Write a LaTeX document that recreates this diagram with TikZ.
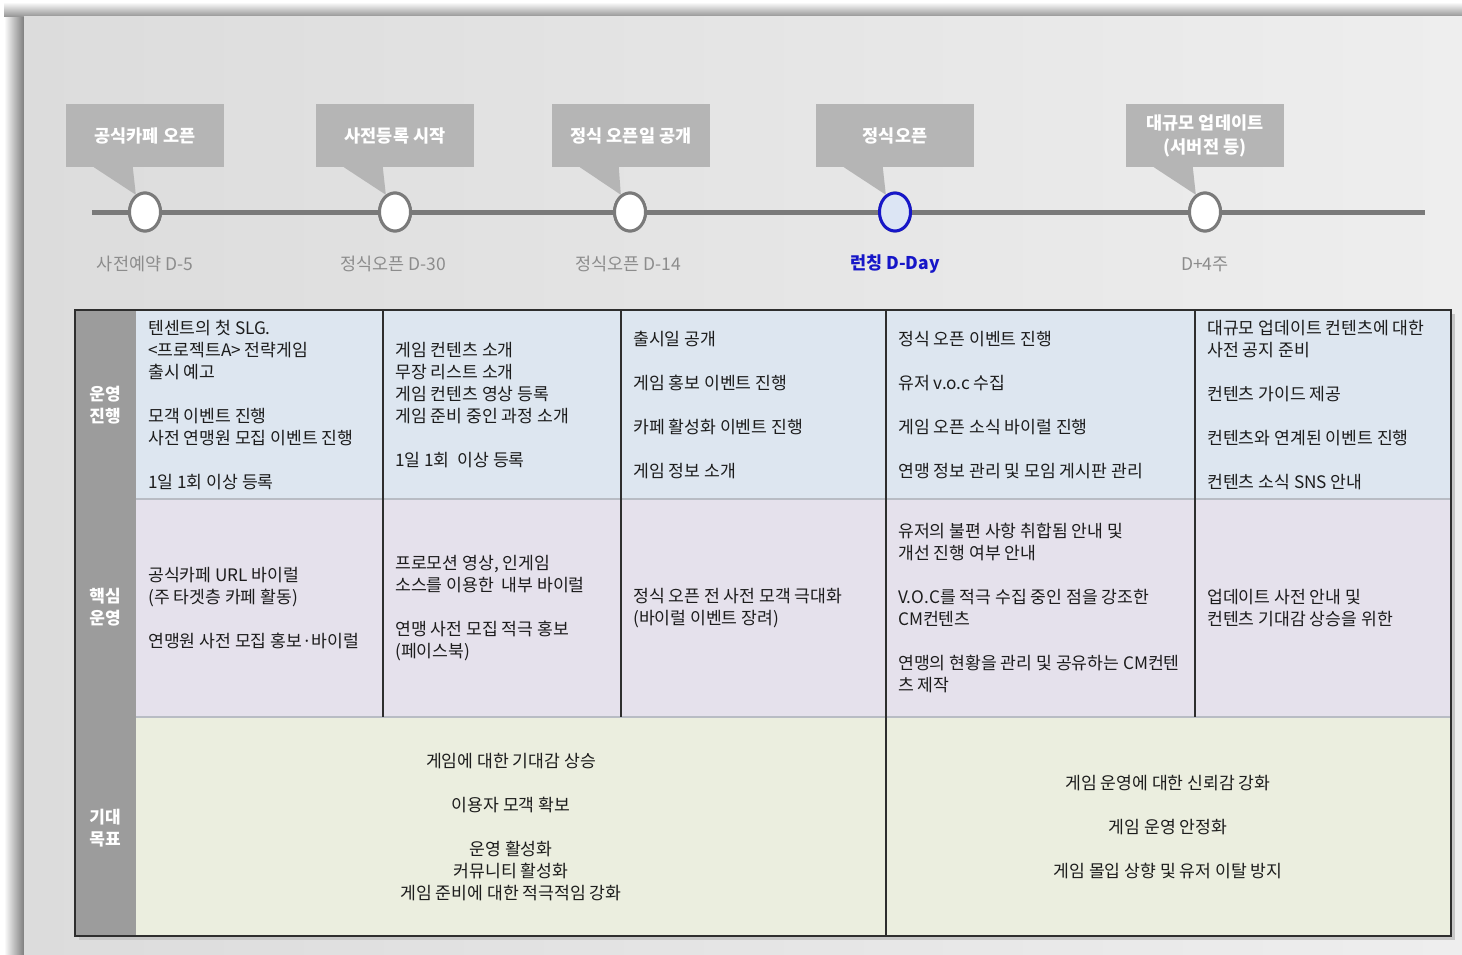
\documentclass[tikz,border=0pt]{standalone}
\usepackage{fontspec}
\setmainfont{Noto Sans CJK KR}
\usetikzlibrary{shapes.geometric}
\definecolor{panelL}{HTML}{DCDCDC}
\definecolor{panelR}{HTML}{EEEEEE}
\definecolor{shadowc}{HTML}{7E7E7E}
\definecolor{calloutc}{HTML}{B5B5B5}
\definecolor{linec}{HTML}{7A7A7A}
\definecolor{labelc}{HTML}{8C8C8C}
\definecolor{dayblue}{HTML}{1616C8}
\definecolor{dayfill}{HTML}{DCE5F4}
\definecolor{rowA}{HTML}{DDE6F0}
\definecolor{rowB}{HTML}{E5E1EC}
\definecolor{rowC}{HTML}{EBEEDF}
\definecolor{hdrc}{HTML}{9C9C9C}
\definecolor{borderc}{HTML}{2E2E2E}
\definecolor{sepc}{HTML}{B8BCC4}
\definecolor{textc}{HTML}{1C1C1C}
\tikzset{
  callout/.style={fill=calloutc, text=white, font=\fontsize{17.5}{24}\selectfont\bfseries,
    minimum width=158pt, minimum height=63pt, inner sep=0pt, align=center},
  tail/.style={fill=calloutc},
  dot/.style={ellipse, draw=linec, line width=3pt, fill=white,
    minimum width=31pt, minimum height=38pt, inner sep=0pt},
  daydot/.style={dot, draw=dayblue, fill=dayfill},
  tlabel/.style={text=labelc, font=\fontsize{17.5}{20}\selectfont, inner sep=0pt},
  hdrtext/.style={text=white, font=\fontsize{17}{22}\selectfont\bfseries, align=center, inner sep=0pt},
  celltext/.style={text=textc, font=\fontsize{17.2}{22}\selectfont, align=left, anchor=west, inner sep=0pt},
  goaltext/.style={text=textc, font=\fontsize{17.2}{22}\selectfont, align=center, inner sep=0pt},
  vline/.style={draw=borderc, line width=1.5pt},
  hsep/.style={draw=sepc, line width=1.2pt},
}
\begin{document}
\begin{tikzpicture}[x=1pt,y=-1pt]
\useasboundingbox (0,0) rectangle (1462,954);
% background panel
\fill[white] (0,0) rectangle (1462,954);
\shade[left color=white, right color=shadowc] (4,8) rectangle (24,954);
\shade[top color=white, bottom color=shadowc!80] (4,2) rectangle (1462,16);
\shade[left color=panelL, right color=panelR] (24,16) rectangle (1462,954);

% timeline
\coordinate (tlA) at (92,212);
\coordinate (tlB) at (1425,212);
\draw[linec, line width=5pt] (tlA) -- (tlB);

% callouts
\node[callout] (c1) at (145,135.5) {공식카페 오픈};
\node[callout] (c2) at (395,135.5) {사전등록 시작};
\node[callout] (c3) at (631,135.5) {정식 오픈일 공개};
\node[callout] (c4) at (895,135.5) {정식오픈};
\node[callout] (c5) at (1205,135.5) {대규모 업데이트\\(서버전 등)};

% dots
\node[dot] (d1) at (145,212) {};
\node[dot] (d2) at (395,212) {};
\node[dot] (d3) at (630,212) {};
\node[dot] (d4) at (895,212) {};
\node[dot] (d5) at (1205,212) {};

\foreach \i in {1,...,5}{
  \fill[tail] ([xshift=28pt]c\i.south west) -- ([xshift=67pt]c\i.south west) -- (d\i.118) -- cycle;
}
% redraw dots on top of tails
\node[dot] at (d1) {};
\node[dot] at (d2) {};
\node[dot] at (d3) {};
\node[daydot] at (d4) {};
\node[dot] at (d5) {};

% labels
\node[tlabel] (l1) at (145,264) {사전예약 D-5};
\node[tlabel] (l2) at (393,264) {정식오픈 D-30};
\node[tlabel] (l3) at (628,264) {정식오픈 D-14};
\node[tlabel, text=dayblue, font=\fontsize{17.5}{20}\selectfont\bfseries] (l4) at (895,264) {런칭 D-Day};
\node[tlabel] (l5) at (1205,264) {D+4주};

% table
\fill[gray!45] (79,314) rectangle (1455,940);
\fill[rowA] (75,310) rectangle (1451,499);
\fill[rowB] (75,499) rectangle (1451,717);
\fill[rowC] (75,717) rectangle (1451,936);
\fill[hdrc] (75,310) rectangle (136,936);
\draw[hsep] (136,499) -- (1451,499);
\draw[hsep] (136,717) -- (1451,717);
\draw[vline] (383,310) -- (383,717);
\draw[vline] (621,310) -- (621,717);
\draw[vline] (1195,310) -- (1195,717);
\draw[vline] (886,310) -- (886,936);
\draw[borderc, line width=2pt] (75,310) rectangle (1451,936);

% row headers
\node[hdrtext] (h1) at (105,405) {운영\\진행};
\node[hdrtext] (h2) at (105,607) {핵심\\운영};
\node[hdrtext] (h3) at (105,828) {기대\\목표};

% row 1
\node[celltext] (r1c1) at (148,405) {텐센트의 첫 SLG.\\\textless 프로젝트A\textgreater{} 전략게임\\출시 예고\\[22pt]모객 이벤트 진행\\사전 연맹원 모집 이벤트 진행\\[22pt]1일 1회 이상 등록};
\node[celltext] (r1c2) at (395,405) {게임 컨텐츠 소개\\무장 리스트 소개\\게임 컨텐츠 영상 등록\\게임 준비 중인 과정 소개\\[22pt]1일 1회\ \ 이상 등록};
\node[celltext] (r1c3) at (633,405) {출시일 공개\\[22pt]게임 홍보 이벤트 진행\\[22pt]카페 활성화 이벤트 진행\\[22pt]게임 정보 소개};
\node[celltext] (r1c4) at (898,405) {정식 오픈 이벤트 진행\\[22pt]유저 v.o.c 수집\\[22pt]게임 오픈 소식 바이럴 진행\\[22pt]연맹 정보 관리 및 모임 게시판 관리};
\node[celltext] (r1c5) at (1207,405) {대규모 업데이트 컨텐츠에 대한\\사전 공지 준비\\[22pt]컨텐츠 가이드 제공\\[22pt]컨텐츠와 연계된 이벤트 진행\\[22pt]컨텐츠 소식 SNS 안내};

% row 2
\node[celltext] (r2c1) at (148,608) {공식카페 URL 바이럴\\(주 타겟층 카페 활동)\\[22pt]연맹원 사전 모집 홍보·바이럴};
\node[celltext] (r2c2) at (395,608) {프로모션 영상, 인게임\\소스를 이용한\ \ 내부 바이럴\\[22pt]연맹 사전 모집 적극 홍보\\(페이스북)};
\node[celltext] (r2c3) at (633,608) {정식 오픈 전 사전 모객 극대화\\(바이럴 이벤트 장려)};
\node[celltext] (r2c4) at (898,608) {유저의 불편 사항 취합됨 안내 및\\개선 진행 여부 안내\\[22pt]V.O.C를 적극 수집 중인 점을 강조한\\CM컨텐츠\\[22pt]연맹의 현황을 관리 및 공유하는 CM컨텐\\츠 제작};
\node[celltext] (r2c5) at (1207,608) {업데이트 사전 안내 및\\컨텐츠 기대감 상승을 위한};

% row 3
\node[goaltext] (r3a) at (511,827) {게임에 대한 기대감 상승\\[22pt]이용자 모객 확보\\[22pt]운영 활성화\\커뮤니티 활성화\\게임 준비에 대한 적극적임 강화};
\node[goaltext] (r3b) at (1168,827) {게임 운영에 대한 신뢰감 강화\\[22pt]게임 운영 안정화\\[22pt]게임 몰입 상향 및 유저 이탈 방지};
\end{tikzpicture}
\end{document}
